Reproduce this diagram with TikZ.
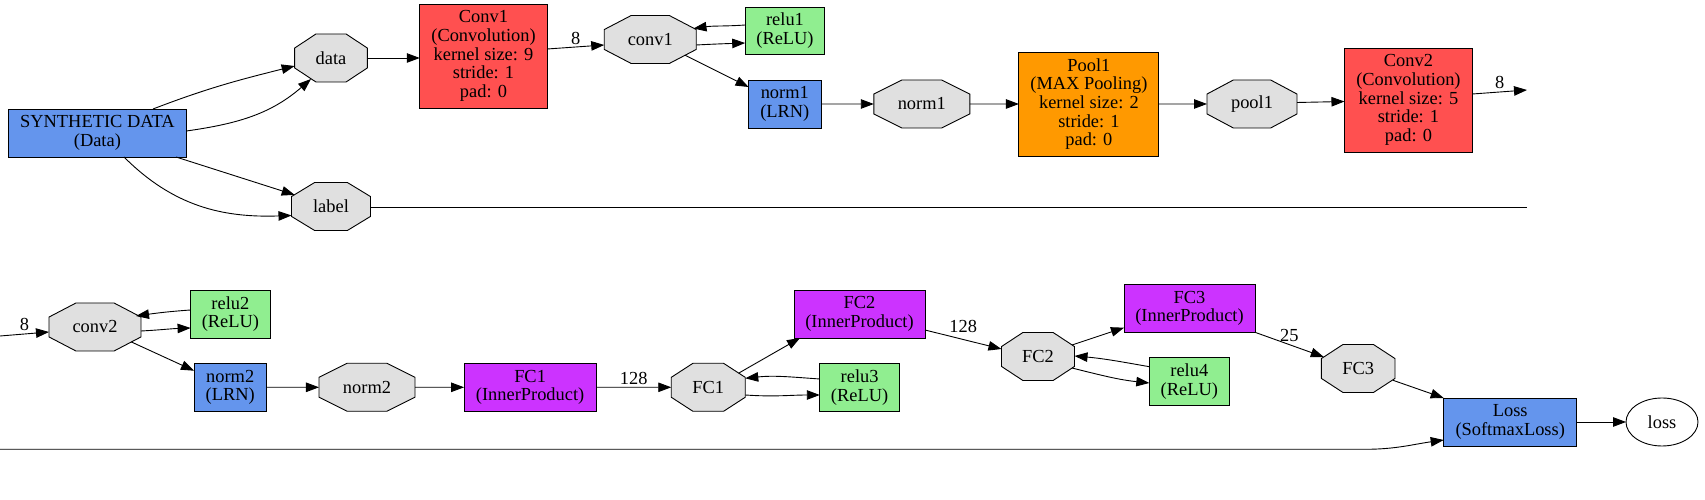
\documentclass[tikz,border=0pt]{standalone}
\usepackage{fontspec}
\setmainfont{Liberation Serif}
\usepackage{graphicx}
\usetikzlibrary{shapes.geometric,arrows.meta}
\definecolor{convc}{HTML}{FF5050}
\definecolor{poolc}{HTML}{FF9900}
\definecolor{ipc}{HTML}{CC33FF}
\definecolor{bluec}{HTML}{6495ED}
\definecolor{reluc}{HTML}{90EE90}
\definecolor{blobc}{HTML}{E0E0E0}
\newcommand\blobnode[4]{%
  \pgfmathsetmacro\bsx{#3/48}\pgfmathsetmacro\bsi{48/#3}%
  \begin{scope}[shift={(#2)}]
    \node[blob,xscale=\bsx] (#1) at (0,0) {\scalebox{\bsi}[1]{#4}};
  \end{scope}}
\begin{document}
\begin{tikzpicture}[x=1pt,y=1pt,
  every node/.style={font=\fontsize{18.4}{18.7}\selectfont},
  box/.style={draw=black, line width=0.9pt, rectangle, inner sep=0pt, outer sep=0pt, align=center},
  blob/.style={draw=black, fill=blobc, line width=0.9pt, regular polygon, regular polygon sides=8,
    minimum size=51.96pt, inner sep=0pt, outer sep=0pt, transform shape},
  edge/.style={line width=0.9pt, -{Triangle[length=13pt,width=9.5pt]}},
  plain/.style={line width=0.9pt},
  lbl/.style={inner sep=1pt}]
\useasboundingbox (0,0) rectangle (1705,500);

% ---------- top row ----------
\node[box, fill=bluec, minimum width=178pt, minimum height=48pt] (synth) at (97.4,367) {SYNTHETIC DATA\\(Data)};
\blobnode{data}{331,442}{72.7}{data}
\blobnode{labelb}{331,293.5}{79}{label}
\node[box, fill=convc, minimum width=127.5pt, minimum height=104pt] (Conv1) at (483.5,444) {Conv1\\(Convolution)\\kernel size: 9\\stride: 1\\pad: 0};
\blobnode{conv1}{650.25,460.5}{92}{conv1}
\node[box, fill=reluc, minimum width=79.6pt, minimum height=47pt] (relu1) at (785,469.5) {relu1\\(ReLU)};
\node[box, fill=bluec, minimum width=72.4pt, minimum height=48pt] (norm1b) at (784.8,396) {norm1\\(LRN)};
\blobnode{norm1o}{921.8,396}{96}{norm1}
\node[box, fill=poolc, minimum width=140pt, minimum height=104pt] (Pool1) at (1088.9,396) {Pool1\\(MAX Pooling)\\kernel size: 2\\stride: 1\\pad: 0};
\blobnode{pool1}{1252,396}{90}{pool1}
\node[box, fill=convc, minimum width=128pt, minimum height=104pt] (Conv2) at (1408.45,400) {Conv2\\(Convolution)\\kernel size: 5\\stride: 1\\pad: 0};
\coordinate (out1) at (1527,410);
\coordinate (out2) at (1527,292);

% ---------- bottom row ----------
\coordinate (in1) at (0,164);
\coordinate (in2) at (0,50.7);
\blobnode{conv2}{95,173}{92}{conv2}
\node[box, fill=reluc, minimum width=79.6pt, minimum height=48pt] (relu2) at (230.4,186) {relu2\\(ReLU)};
\node[box, fill=bluec, minimum width=72.4pt, minimum height=48pt] (norm2b) at (230.2,112.7) {norm2\\(LRN)};
\blobnode{norm2o}{367,112.7}{96}{norm2}
\node[box, fill=ipc, minimum width=132pt, minimum height=48pt] (FC1b) at (530.1,112.7) {FC1\\(InnerProduct)};
\blobnode{FC1o}{708.25,112.7}{74}{FC1}
\node[box, fill=ipc, minimum width=131pt, minimum height=48pt] (FC2b) at (859.5,186) {FC2\\(InnerProduct)};
\node[box, fill=reluc, minimum width=79.6pt, minimum height=48pt] (relu3) at (859.6,112.7) {relu3\\(ReLU)};
\blobnode{FC2o}{1038,143.5}{73}{FC2}
\node[box, fill=ipc, minimum width=131pt, minimum height=48pt] (FC3b) at (1189.5,191.7) {FC3\\(InnerProduct)};
\node[box, fill=reluc, minimum width=80pt, minimum height=48pt] (relu4) at (1189.3,118.3) {relu4\\(ReLU)};
\blobnode{FC3o}{1358.2,131.5}{73.6}{FC3}
\node[box, fill=bluec, minimum width=133pt, minimum height=48pt] (Loss) at (1510.2,78) {Loss\\(SoftmaxLoss)};
\node[draw=black, line width=0.9pt, ellipse, minimum width=72pt, minimum height=48pt, inner sep=0pt, outer sep=0pt] (lossE) at (1662,78) {loss};

% ---------- edges, top row ----------
\draw[edge] ([xshift=55.6pt]synth.north) to[out=21,in=194] ([yshift=-8pt]data.west);
\draw[edge] ([yshift=2pt]synth.east) to[out=8,in=221] ([xshift=-20pt,yshift=-21pt]data.center);
\draw[edge] ([xshift=78.6pt]synth.south) -- ([xshift=-36.3pt,yshift=11.6pt]labelb.center);
\draw[edge] ([xshift=26.6pt]synth.south) to[out=-45,in=182] ([yshift=-9pt]labelb.west);
\draw[edge] (data.east) -- (data.east -| Conv1.west);
\draw[edge] ([yshift=7pt]Conv1.east) -- node[lbl,above=1pt]{8} ([yshift=-5.5pt]conv1.west);
\draw[edge] ([yshift=5.5pt]relu1.west) to[out=184,in=8] ([xshift=43.25pt,yshift=11pt]conv1.center);
\draw[edge] ([yshift=-5.5pt]conv1.east) to[out=3,in=182] ([yshift=-12.5pt]relu1.west);
\draw[edge] ([xshift=34.5pt,yshift=-15.6pt]conv1.center) -- ([yshift=17pt]norm1b.west);
\draw[edge] (norm1b.east) -- (norm1o.west);
\draw[edge] (norm1o.east) -- (Pool1.west);
\draw[edge] (Pool1.east) -- (pool1.west);
\draw[edge] ([yshift=1.5pt]pool1.east) -- ([yshift=-1.5pt]Conv2.west);
\draw[edge] ([yshift=6pt]Conv2.east) -- node[lbl,above=1.5pt]{8} (out1);
\draw[plain] ([yshift=-1pt]labelb.east) -- ([yshift=-1pt]labelb.east -| out2);

% ---------- edges, bottom row ----------
\draw[edge] (in1) -- node[lbl,above=1.5pt]{8} ([yshift=-5pt]conv2.west);
\draw[edge] ([yshift=4pt]relu2.west) to[out=184,in=8] ([xshift=41pt,yshift=11pt]conv2.center);
\draw[edge] ([yshift=-4pt]conv2.east) to[out=3,in=182] ([yshift=-14pt]relu2.west);
\draw[edge] ([xshift=36pt,yshift=-14.8pt]conv2.center) -- ([yshift=16.6pt]norm2b.west);
\draw[edge] (norm2b.east) -- (norm2o.west);
\draw[edge] (norm2o.east) -- (FC1b.west);
\draw[edge] (FC1b.east) -- node[lbl,above=1.5pt]{128} (FC1o.west);
\draw[edge] ([xshift=30.5pt,yshift=14.2pt]FC1o.center) -- ([xshift=6pt]FC2b.south west);
\draw[edge] ([yshift=8.3pt]relu3.west) to[out=176,in=6] ([yshift=9pt]FC1o.east);
\draw[edge] ([yshift=-7.7pt]FC1o.east) to[out=-4,in=180] ([yshift=-7.7pt]relu3.west);
\draw[edge] ([yshift=-16pt]FC2b.east) -- node[lbl,above=5pt]{128} ([yshift=7.5pt]FC2o.west);
\draw[edge] ([xshift=34pt,yshift=11.5pt]FC2o.center) -- ([yshift=-19.4pt]FC3b.west);
\draw[edge] ([yshift=15pt]relu4.west) to[out=170,in=-5] ([yshift=0.5pt]FC2o.east);
\draw[edge] ([xshift=34pt,yshift=-11.5pt]FC2o.center) to[out=-14,in=174] ([yshift=-1.3pt]relu4.west);
\draw[edge] (FC3b.south east) -- node[lbl,above=2pt]{25} ([xshift=-34.4pt,yshift=11.5pt]FC3o.center);
\draw[edge] ([xshift=34.8pt,yshift=-11.8pt]FC3o.center) -- (Loss.north west);
\draw[edge] (Loss.east) -- (lossE.west);
\draw[edge] (in2) -- ++(1365,0) to[out=0,in=188] ([yshift=-18pt]Loss.west);
\end{tikzpicture}
\end{document}
